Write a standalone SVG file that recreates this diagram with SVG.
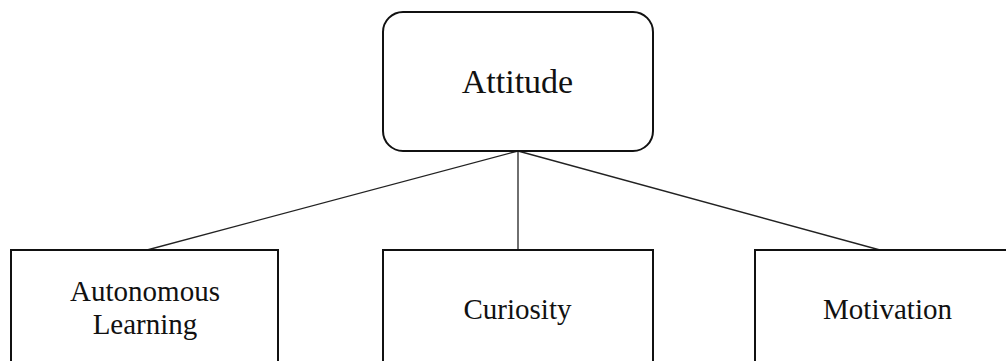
<svg xmlns="http://www.w3.org/2000/svg" width="1006" height="361" viewBox="0 0 1006 361">
  <style>
    .box { fill: #ffffff; stroke: #111111; stroke-width: 2; }
    .link { stroke: #222222; stroke-width: 1.3; fill: none; }
    .label { font-family: "Liberation Serif", "Times New Roman", serif; fill: #111111; text-anchor: middle; }
    .top { font-size: 34px; }
    .leaf { font-size: 29px; }
  </style>
  <rect width="1006" height="361" fill="#ffffff"/>

  <!-- connectors from the root to each child -->
  <g id="connectors">
    <line class="link" x1="518" y1="151" x2="147" y2="250"/>
    <line class="link" x1="518" y1="151" x2="518" y2="250"/>
    <line class="link" x1="518" y1="151" x2="880" y2="250"/>
  </g>

  <g id="attitude">
    <rect class="box" x="383" y="12" width="270" height="139" rx="20" ry="20"/>
    <text class="label top" x="517.5" y="93">Attitude</text>
  </g>

  <g id="autonomous-learning">
    <rect class="box" x="11" y="250" width="267" height="130"/>
    <text class="label leaf" x="145" y="301">Autonomous</text>
    <text class="label leaf" x="145" y="334">Learning</text>
  </g>

  <g id="curiosity">
    <rect class="box" x="383" y="250" width="270" height="130"/>
    <text class="label leaf" x="517.5" y="319">Curiosity</text>
  </g>

  <g id="motivation">
    <rect class="box" x="755" y="250" width="270" height="130"/>
    <text class="label leaf" x="887.5" y="319">Motivation</text>
  </g>
</svg>
